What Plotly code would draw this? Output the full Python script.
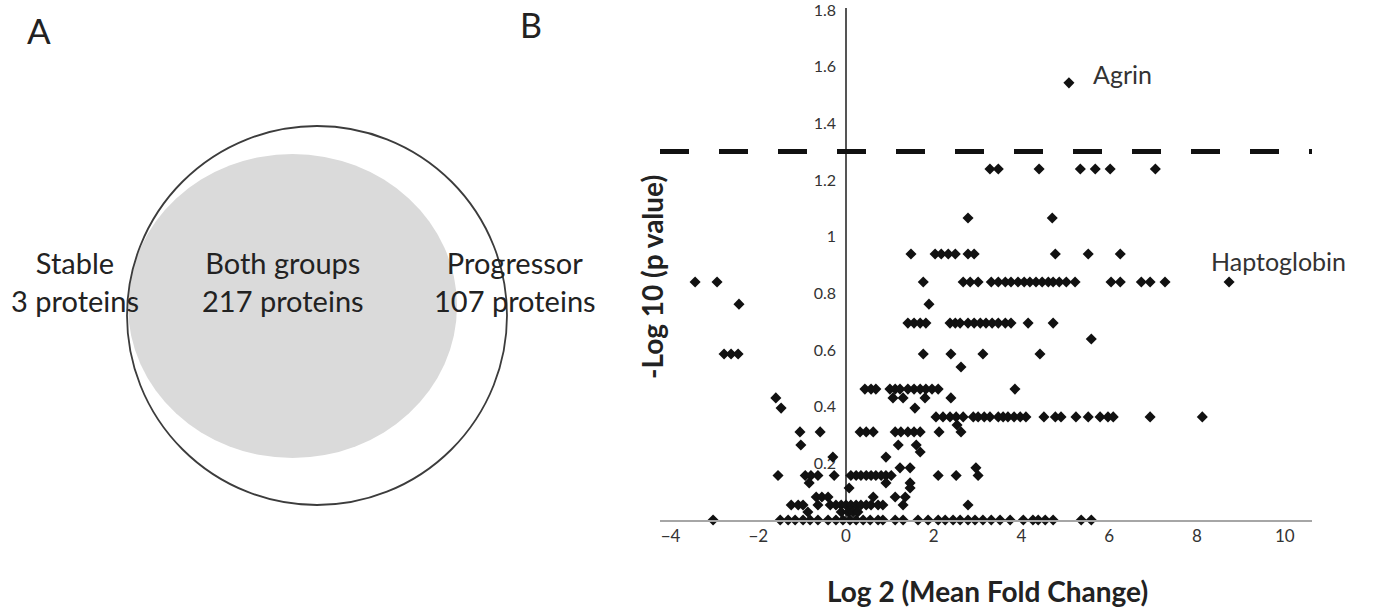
import plotly.graph_objects as go

# ---------------- data ----------------
# Panel A: Venn counts
venn_labels = ["Stable", "Both groups", "Progressor"]
venn_counts = [3, 217, 107]

# Panel B: volcano plot, -log10(p) levels and the log2 fold changes found at each level
neg_log10_levels = [1.543, 1.239, 1.066, 0.939, 0.840, 0.762, 0.695, 0.639, 0.586, 0.540,
                    0.462, 0.431, 0.395, 0.364, 0.335, 0.311, 0.265, 0.240, 0.222, 0.184,
                    0.157, 0.131, 0.113, 0.081, 0.053, 0.028, 0.000]
fc_1543 = [5.08]
fc_1239 = [3.28, 3.47, 4.40, 5.34, 5.68, 6.02, 7.05]
fc_1066 = [2.78, 4.70]
fc_0939 = [1.48, 2.03, 2.17, 2.33, 2.49, 2.78, 2.92, 4.77, 5.52, 6.25]
fc_0840 = [-3.44, -2.94, 1.76, 2.67, 2.83, 3.01, 3.31, 3.47, 3.63, 3.76, 3.92, 4.06, 4.19,
           4.33, 4.47, 4.61, 4.72, 4.86, 5.02, 5.22, 6.04, 6.25, 6.73, 6.93, 7.27, 8.73]
fc_0762 = [-2.44, 1.89]
fc_0695 = [1.41, 1.55, 1.69, 1.82, 2.37, 2.49, 2.60, 2.78, 2.92, 3.06, 3.19, 3.33, 3.47,
           3.63, 3.76, 4.15, 4.72]
fc_0639 = [5.59]
fc_0586 = [-2.78, -2.62, -2.46, 1.76, 2.39, 3.12, 4.42]
fc_0540 = [2.62]
fc_0462 = [0.43, 0.57, 0.68, 1.00, 1.12, 1.23, 1.41, 1.55, 1.69, 1.82, 1.96, 2.10, 3.85]
fc_0431 = [-1.60, 1.07, 1.30, 1.80, 2.39]
fc_0395 = [-1.48, 1.57]
fc_0364 = [2.05, 2.21, 2.37, 2.51, 2.67, 2.90, 3.01, 3.15, 3.28, 3.47, 3.58, 3.69, 3.83,
           3.97, 4.10, 4.51, 4.77, 4.90, 5.24, 5.52, 5.79, 5.97, 6.09, 6.93, 8.12]
fc_0335 = [2.53]
fc_0311 = [-1.05, -0.59, 0.32, 0.46, 0.62, 1.12, 1.25, 1.41, 1.55, 1.69, 2.12, 2.62]
fc_0265 = [-1.03, 1.19, 1.60]
fc_0240 = [1.69]
fc_0222 = [-0.30, 0.91]
fc_0184 = [1.23, 1.46, 2.96]
fc_0157 = [-1.55, -0.93, -0.80, -0.64, -0.27, 0.11, 0.23, 0.34, 0.46, 0.57, 0.68, 0.80,
           0.91, 1.03, 2.10, 2.51, 3.01]
fc_0131 = [-0.84, 0.91, 1.46]
fc_0113 = [0.07, 1.46]
fc_0081 = [-0.68, -0.55, -0.41, 0.62, 1.12, 1.35]
fc_0053 = [-1.25, -1.09, -0.98, -0.64, -0.36, -0.23, -0.11, 0.00, 0.11, 0.23, 0.34, 0.46,
           0.57, 0.73, 0.84, 1.30, 2.78]
fc_0028 = [-0.87, -0.11, 0.05, 0.16, 0.27]
fc_0000 = [-3.03, -1.50, -1.32, -1.16, -0.98, -0.82, -0.64, -0.41, -0.23, -0.07, 0.09, 0.23,
           0.39, 0.55, 0.73, 0.84, 1.12, 1.30, 1.64, 1.87, 2.10, 2.26, 2.44, 2.60, 2.78, 2.94,
           3.12, 3.31, 3.51, 3.74, 4.04, 4.26, 4.38, 4.54, 4.72, 5.36, 5.59]
fc_rows = [fc_1543, fc_1239, fc_1066, fc_0939, fc_0840, fc_0762, fc_0695, fc_0639, fc_0586,
           fc_0540, fc_0462, fc_0431, fc_0395, fc_0364, fc_0335, fc_0311, fc_0265, fc_0240,
           fc_0222, fc_0184, fc_0157, fc_0131, fc_0113, fc_0081, fc_0053, fc_0028, fc_0000]

labeled_points = {"Agrin": (5.08, 1.543), "Haptoglobin": (8.73, 0.840)}
significance_threshold = 1.301  # -log10(0.05)

x_ticks = [-4, -2, 0, 2, 4, 6, 8, 10]
y_ticks = [0.2, 0.4, 0.6, 0.8, 1.0, 1.2, 1.4, 1.6, 1.8]
y_ticktext = ["0.2", "0.4", "0.6", "0.8", "1", "1.2", "1.4", "1.6", "1.8"]

# ---------------- layout helpers ----------------
# body margin is removed by a post script, so the figure fills the whole window
W, H = 1373, 614
fx = lambda p: p / W
fy = lambda p: 1 - p / H

X_RANGE = [-4.24, 10.62]
Y_RANGE = [0, 1.806]
x_dom = [fx(660), fx(1312)]
y_dom = [fy(520), fy(520 - 1.806 * 283.3)]
y_axis_pos = x_dom[0] + (0 - X_RANGE[0]) / (X_RANGE[1] - X_RANGE[0]) * (x_dom[1] - x_dom[0])

FONT = "Lato, 'Open Sans', sans-serif"

xs, ys = [], []
for lvl, row in zip(neg_log10_levels, fc_rows):
    xs.extend(row)
    ys.extend([lvl] * len(row))

fig = go.Figure()
fig.add_trace(go.Scatter(
    x=xs, y=ys, mode="markers",
    marker=dict(symbol="diamond", size=8.5, color="#111111", line=dict(width=0)),
    cliponaxis=False, showlegend=False, hoverinfo="skip",
))

shapes = []
# Venn: shared area (grey) and progressor circle (outline)
shapes.append(dict(type="circle", xref="paper", yref="paper",
                   x0=fx(128), x1=fx(457), y0=fy(458), y1=fy(154),
                   fillcolor="#dadada", line=dict(width=0), layer="below"))
shapes.append(dict(type="circle", xref="paper", yref="paper",
                   x0=fx(127), x1=fx(507), y0=fy(505), y1=fy(126),
                   fillcolor="rgba(0,0,0,0)", line=dict(width=1.8, color="#3c3c3c"), layer="below"))
# significance threshold
shapes.append(dict(type="line", xref="x", yref="y",
                   x0=X_RANGE[0], x1=X_RANGE[1], y0=significance_threshold, y1=significance_threshold,
                   line=dict(color="#111111", width=5, dash="29px,30px"), layer="above"))

annotations = []
def txt(text, x, y, size, bold=False, xanchor="center", angle=0, color="#222222"):
    annotations.append(dict(text=f"<b>{text}</b>" if bold else text, xref="paper", yref="paper",
                            x=fx(x), y=fy(y), xanchor=xanchor, yanchor="middle",
                            showarrow=False, textangle=angle,
                            font=dict(family=FONT, size=size, color=color)))

txt("A", 39, 30, 35)
txt("B", 531, 24, 34)
txt(f"{venn_labels[0]}<br>{venn_counts[0]} proteins", 75, 281, 29)
txt(f"{venn_labels[1]}<br>{venn_counts[1]} proteins", 283, 281, 29)
txt(f"{venn_labels[2]}<br>{venn_counts[2]} proteins", 515, 281, 29)
txt("-Log 10 (p value)", 652, 277, 28, bold=True, angle=-90)
txt("Log 2 (Mean Fold Change)", 987, 591, 28, bold=True)

for name, (lx, ly) in labeled_points.items():
    if name == "Agrin":
        annotations.append(dict(text=name, xref="x", yref="y", x=lx + 0.5, y=ly + 0.03,
                                xanchor="left", yanchor="middle", showarrow=False,
                                font=dict(family=FONT, size=25, color="#333333")))
    else:
        annotations.append(dict(text=name, xref="x", yref="y", x=lx - 0.45, y=ly + 0.075,
                                xanchor="left", yanchor="middle", showarrow=False,
                                font=dict(family=FONT, size=25, color="#333333")))

fig.update_layout(
    width=W, height=H,
    margin=dict(l=0, r=0, t=0, b=0, autoexpand=False),
    paper_bgcolor="white", plot_bgcolor="white",
    showlegend=False,
    shapes=shapes, annotations=annotations,
    xaxis=dict(domain=x_dom, range=X_RANGE, tickvals=x_ticks, ticks="",
               showline=True, linecolor="#a6a6a6", linewidth=1.5,
               showgrid=False, zeroline=False, anchor="y", automargin=False,
               tickfont=dict(family=FONT, size=17, color="#333333")),
    yaxis=dict(domain=y_dom, range=Y_RANGE, tickvals=y_ticks, ticktext=y_ticktext, ticks="",
               showline=True, linecolor="#555555", linewidth=1.5,
               showgrid=False, zeroline=False, anchor="free", position=y_axis_pos,
               layer="below traces", ticklabelstandoff=6, ticklabeloverflow="allow",
               automargin=False,
               tickfont=dict(family=FONT, size=16, color="#333333")),
)

fig.write_html("out.html",
               config={"displayModeBar": False},
               post_script="document.body.style.margin='0';document.body.style.padding='0';")
